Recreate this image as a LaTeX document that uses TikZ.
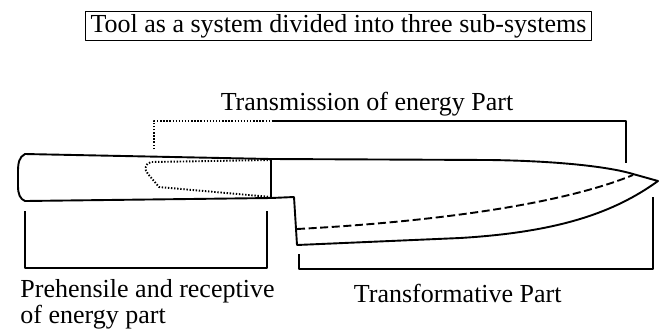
\documentclass[tikz,border=0pt]{standalone}
\usepackage{fontspec}
\setmainfont{Liberation Serif}
\begin{document}
\begin{tikzpicture}[x=0.5pt,y=-0.5pt,line join=round,
  outline/.style={line width=0.95pt},
  bracket/.style={line width=0.85pt},
  dots/.style={line width=0.95pt,dash pattern=on 0.7pt off 0.85pt},
  label/.style={font=\fontsize{13}{13}\selectfont,inner sep=0pt}]
  \useasboundingbox (0,0) rectangle (663,328);

  \node[label,draw,line width=0.55pt,inner xsep=2.5pt,inner ysep=1.3pt] (title) at (338.5,26) {Tool as a system divided into three sub-systems};
  \node[label,anchor=base] (trans) at (367,110) {Transmission of energy Part};
  \node[label,anchor=base west,align=left] (prehens) at (20,323) {Prehensile and receptive\\of energy part};
  \node[label,anchor=base east] (transf) at (562,302) {Transformative Part};

  % handle
  \draw[outline] (271,159) -- (25,154) .. controls (19,157) and (18,163) .. (18,172)
    -- (18,186) .. controls (18,194) and (20,199) .. (25,201) -- (271,198) -- cycle;
  % tang hidden in the handle
  \draw[dots] (271,160) -- (151,162) .. controls (145,163) and (144,170) .. (148,174)
    -- (159,187) -- (271,197);
  % blade and cutting edge
  \draw[outline] (271,159) -- (490,160) .. controls (560,161) and (610,167) .. (633,174)
    -- (658,181) .. controls (615,212) and (560,232) .. (460,238) -- (297,245)
    -- (294,197) -- (271,198);
  \draw[outline,dash pattern=on 4pt off 1.8pt] (297,229) .. controls (430,222) and (560,205) .. (633,175);

  % brackets
  \draw[dots] (154,149) -- (154,121) -- (272,121);
  \draw[bracket] (272,121) -- (626,121) -- (626,163);
  \draw[bracket] (25,211) -- (25,268) -- (267,268) -- (267,211);
  \draw[bracket] (299,254) -- (299,269) -- (653,269) -- (653,197);
\end{tikzpicture}
\end{document}
